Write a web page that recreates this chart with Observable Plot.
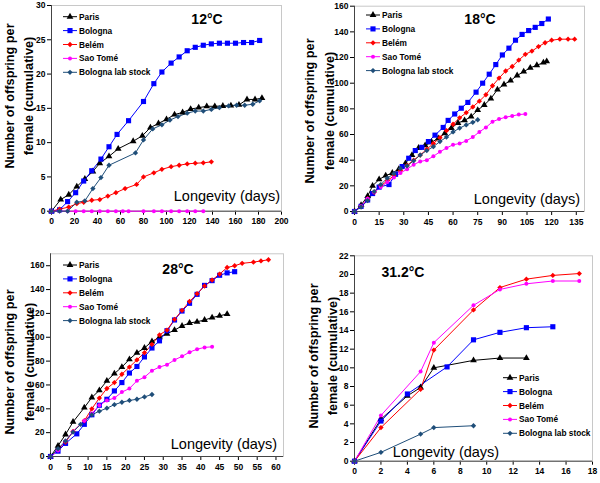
<!DOCTYPE html>
<html><head><meta charset="utf-8">
<script src="https://cdn.jsdelivr.net/npm/d3@7"></script>
<script src="https://cdn.jsdelivr.net/npm/@observablehq/plot@0.6"></script>
<style>
body{margin:0;background:#fff;}
#root{position:relative;width:600px;height:483px;font-family:"Liberation Sans",Arial,sans-serif;overflow:hidden;}
.panel{position:absolute;}
.panel svg{position:absolute;left:0;top:0;overflow:visible;}
</style></head><body><div id="root"></div>
<script>
// ---- legend / series ----
const seriesNames = ["Paris", "Bologna", "Belém", "Sao Tomé", "Bologna lab stock"];
const seriesColors = ["#000000", "#0000ff", "#ff0000", "#ff00ff", "#1f4e79"];
const seriesSymbols = ["triangle", "square", "diamond2", "circle", "diamond2"];

// ---- 12°C : [day, cumulative offspring] ----
const t12Paris = [[0,0],[8,1.7],[15,2.4],[22,3.6],[29,4.7],[36,5.8],[42,7.0],[50,8.0],[58,9.1],[71,10.2],[79,11.0],[86,12.2],[93,12.8],[100,13.4],[107,14.1],[114,14.4],[121,14.9],[128,15.1],[135,15.3],[142,15.3],[149,15.35],[156,15.4],[163,15.5],[170,16.3],[177,16.3],[183,16.5]];
const t12Bologna = [[0,0],[7,0.2],[14,1.4],[21,2.7],[28,4.4],[35,5.9],[43,7.6],[50,9.4],[57,11.2],[67,13.2],[80,16.0],[89,18.6],[96,20.3],[104,21.6],[111,22.5],[118,23.4],[125,23.9],[132,24.2],[139,24.4],[146,24.5],[153,24.5],[160,24.5],[167,24.6],[174,24.6],[181,24.9]];
const t12Belem = [[0,0],[7,0.3],[15,0.6],[22,1.1],[28,1.3],[35,1.6],[42,1.7],[49,2.2],[56,2.7],[64,3.3],[74,3.9],[80,5.0],[89,5.6],[96,6.1],[104,6.5],[111,6.7],[118,6.9],[125,7.0],[132,7.05],[139,7.2]];
const t12SaoTome = [[0,0],[7,0],[14,0],[21,0],[28,0],[35,0],[42,0],[49,0],[56,0],[62,0],[67,0],[80,0],[89,0],[96,0],[104,0],[111,0],[118,0],[125,0],[132,0]];
const t12LabStock = [[0,0],[7,0],[14,0],[22,1.3],[29,1.5],[36,3.3],[43,4.9],[50,6.7],[73,8.5],[80,10.4],[88,12.0],[96,12.6],[103,13.3],[110,13.8],[118,14.3],[125,14.6],[132,14.6],[139,14.85],[146,15.1],[154,15.35],[161,15.45],[168,15.45],[175,15.6],[181,16.1]];

// ---- 18°C ----
const t18Paris = [[0,0],[4,5],[8,12],[11,20],[15,25],[19,28],[23,30],[27,33],[31,37.5],[35,44],[39,49.5],[43,51.5],[47,54],[51,57],[55,61],[59,65],[63,69],[67,71],[71,74],[75,79],[79,83],[83,88],[87,95],[91,99],[95,102],[99,106],[103,109],[107,112],[111,114],[115,116],[117,117]];
const t18Bologna = [[0,0],[4,4],[8,9],[11,14],[15,19],[21,21],[25,29],[29,35],[33,41.5],[37,47.5],[41,50],[45,54.5],[49,59.5],[54,65.5],[57,71],[61,76],[65,80.5],[69,85],[74,93],[78,100],[82,107],[86,114.5],[90,122],[94,127.3],[98,133.5],[102,138],[106,141],[110,143.5],[114,146.5],[118,150]];
const t18Belem = [[0,0],[4,4],[8,10],[12,15],[16,20],[20,24],[24,28],[28,32],[32,36],[36,40],[40,44],[44,48.5],[48,53],[52,57.5],[56,63],[60,68],[64,73],[68,77],[72,81.5],[76,86],[80,91],[84,98],[88,104],[92,109.5],[96,113],[100,118],[104,122.5],[108,125],[112,128.5],[116,131.5],[120,133.5],[125,134.3],[130,134.3],[134,134.3]];
const t18SaoTome = [[0,0],[4,4],[8,10],[12,15],[16,19],[20,23],[24,26.5],[28,30],[32,33],[36,36.5],[40,39],[44,40],[48,43],[52,46.5],[56,49.5],[60,52],[64,53],[68,55],[72,58],[76,62],[80,65.5],[84,70],[88,72],[92,73.5],[96,74.5],[100,75.5],[104,76]];
const t18LabStock = [[0,0],[4,3.5],[8,8.5],[12,15.5],[16,21],[20,26],[24,29.5],[28,33.5],[32,35.5],[36,39.5],[40,44],[44,47.5],[48,50.5],[52,54.5],[56,58],[60,62],[64,65],[68,67.5],[72,69.5],[75,71.5]];

// ---- 28°C ----
const t28Paris = [[0,0],[2,9],[4,18.5],[6,29],[9,41],[11,49.5],[13,55.5],[15,63.5],[17,69.5],[19,75],[21,81.5],[23,87],[25,91],[27,96.5],[29,100],[31,103],[33,106],[35,109.5],[37,112],[39,113],[41,114.5],[43,116.5],[45,118],[47,119.5]];
const t28Bologna = [[0,0],[2,4.5],[4,11],[7,19],[9,27],[11,35],[13,43],[15,48],[17,55],[19,62],[21,70],[23,75.5],[25,83.5],[27,91],[29,97],[31,105.5],[33,114.5],[35,122],[37,128.5],[39,136],[41,143.5],[43,147.5],[45,152],[47,154],[49,155]];
const t28Belem = [[0,0],[2,6],[4,12],[6,21],[9,30],[11,40],[13,49],[15,57],[17,62],[19,69],[21,75],[23,81],[25,87],[27,94],[29,102],[31,106],[33,115],[35,122.5],[37,130],[39,136.5],[41,143],[43,148],[45,153],[47,158.5],[49,160],[51,162],[54,163],[56,164],[58,165]];
const t28SaoTome = [[0,0],[2,5],[4,13],[6,21],[9,30],[11,36],[13,43],[15,47],[17,49],[19,54],[21,57],[23,63.5],[25,66.5],[27,72],[29,75],[31,77],[33,81],[35,84],[37,87.5],[39,90],[41,91.5],[43,92]];
const t28LabStock = [[0,0],[2,6.5],[4,13],[6,20.5],[8,27],[11,35],[13,38],[15,40.5],[17,43.5],[19,45.5],[21,47],[23,48],[25,50],[27,52]];

// ---- 31.2°C ----
const t31Paris = [[0,0],[2,4.5],[4,7.0],[5,7.9],[6,10.0],[9,10.8],[11,11.05],[13,11.05]];
const t31Bologna = [[0,0],[2,4.3],[4,7.2],[7,10.1],[9,13.0],[11,13.8],[13,14.3],[15,14.4]];
const t31Belem = [[0,0],[2,3.6],[5,7.7],[6,11.9],[9,16.2],[11,18.6],[13,19.5],[15,19.9],[17,20.1]];
const t31SaoTome = [[0,0],[2,4.9],[5,9.6],[6,12.7],[9,16.7],[11,18.4],[13,19.0],[15,19.3],[17,19.3]];
const t31LabStock = [[0,0],[2,0.95],[5,2.9],[6,3.6],[9,3.8]];

// ---- tick labels ----
const x12Ticks = [0,20,40,60,80,100,120,140,160,180,200];
const y12Ticks = [0,5,10,15,20,25,30];
const x18Ticks = [0,15,30,45,60,75,90,105,120,135];
const y18Ticks = [0,20,40,60,80,100,120,140,160];
const x28Ticks = [0,5,10,15,20,25,30,35,40,45,50,55,60];
const y28Ticks = [0,20,40,60,80,100,120,140,160];
const x31Ticks = [0,2,4,6,8,10,12,14,16,18];
const y31Ticks = [0,2,4,6,8,10,12,14,16,18,20,22];

const titles = ["12°C", "18°C", "28°C", "31.2°C"];
const yTitleLines = ["Number of offspring per", "female (cumulative)"];
const xTitle = "Longevity (days)";

const panels = [
  {left:0, top:0, w:300, h:240, m:[5,19,29.3,51], xd:[0,200], yd:[0,30], xt:x12Ticks, yt:y12Ticks,
   data:[t12Paris,t12Bologna,t12Belem,t12SaoTome,t12LabStock], title:titles[0],
   tp:[207,19], lp:[227,196], lg:[63,16.7], yl:[10,29,96]},
  {left:300, top:0, w:300, h:240, m:[5.7,16,29,54], xd:[0,140], yd:[0,160], xt:x18Ticks, yt:y18Ticks,
   data:[t18Paris,t18Bologna,t18Belem,t18SaoTome,t18LabStock], title:titles[1],
   tp:[180,19], lp:[227,199], lg:[66,15], yl:[10,30,111]},
  {left:0, top:240, w:300, h:243, m:[13.3,17,27,50], xd:[0,62], yd:[0,170], xt:x28Ticks, yt:y28Ticks,
   data:[t28Paris,t28Bologna,t28Belem,t28SaoTome,t28LabStock], title:titles[2],
   tp:[178,29], lp:[224,204], lg:[63,25], yl:[10,30,122]},
  {left:300, top:240, w:300, h:243, m:[15.3,8,22.3,54], xd:[0,18], yd:[0,22], xt:x31Ticks, yt:y31Ticks,
   data:[t31Paris,t31Bologna,t31Belem,t31SaoTome,t31LabStock], title:titles[3],
   tp:[103,32], lp:[146,212], lg:[203,137.7], yl:[14,33,116]}
];

const dotR = [2.5, 2.9, 2.4, 2.0, 2.4];
const font = "Liberation Sans, Arial, sans-serif";
const root = document.getElementById("root");

panels.forEach(p => {
  const div = document.createElement("div");
  div.className = "panel";
  div.style.left = p.left + "px"; div.style.top = p.top + "px";
  div.style.width = p.w + "px"; div.style.height = p.h + "px";
  root.appendChild(div);

  const marks = [
    Plot.frame({stroke:"#c8c8c8"}),
    Plot.ruleY([p.yd[0]], {stroke:"#444"}),
    Plot.ruleX([p.xd[0]], {stroke:"#444"})
  ];
  p.data.forEach((d, i) => {
    marks.push(Plot.line(d, {x:v=>v[0], y:v=>v[1], stroke:seriesColors[i], strokeWidth:1}));
  });
  p.data.forEach((d, i) => {
    marks.push(Plot.dot(d, {x:v=>v[0], y:v=>v[1], fill:seriesColors[i], symbol:seriesSymbols[i], r:dotR[i], stroke:"none"}));
  });

  const chart = Plot.plot({
    width:p.w, height:p.h,
    marginTop:p.m[0], marginRight:p.m[1], marginBottom:p.m[2], marginLeft:p.m[3],
    x:{domain:p.xd, ticks:p.xt, tickSize:4, tickPadding:3, label:null, tickFormat:"d"},
    y:{domain:p.yd, ticks:p.yt, tickSize:4, tickPadding:2, label:null, tickFormat:"d"},
    style:{fontFamily:font, fontSize:"8.5px", fontWeight:"bold", color:"#000", background:"transparent"},
    marks
  });
  div.appendChild(chart);

  // overlay annotations (titles, legend)
  const svg = d3.select(div).append("svg")
    .attr("width", p.w).attr("height", p.h)
    .style("font-family", font);

  yTitleLines.forEach((t, k) => {
    svg.append("text")
      .attr("transform", `translate(${p.yl[k]},${p.yl[2]}) rotate(-90)`)
      .attr("text-anchor", "middle").attr("dominant-baseline", "central")
      .attr("font-size", "12.7px").attr("font-weight", "bold").attr("fill", "#000")
      .text(t);
  });
  svg.append("text").attr("x", p.tp[0]).attr("y", p.tp[1])
    .attr("text-anchor", "middle").attr("dominant-baseline", "central")
    .attr("font-size", "14px").attr("font-weight", "bold").text(p.title);
  svg.append("text").attr("x", p.lp[0]).attr("y", p.lp[1])
    .attr("text-anchor", "middle").attr("dominant-baseline", "central")
    .attr("font-size", "14.5px").text(xTitle);
  const symMap = {triangle:d3.symbolTriangle, square:d3.symbolSquare, diamond2:d3.symbolDiamond2, circle:d3.symbolCircle};
  seriesNames.forEach((name, i) => {
    const y = p.lg[1] + i * 13.9;
    const g = svg.append("g");
    g.append("line").attr("x1", p.lg[0]).attr("x2", p.lg[0] + 14).attr("y1", y).attr("y2", y)
      .attr("stroke", seriesColors[i]).attr("stroke-width", 1);
    g.append("path").attr("transform", `translate(${p.lg[0] + 7},${y})`)
      .attr("d", d3.symbol(symMap[seriesSymbols[i]], Math.PI * dotR[i] * dotR[i])())
      .attr("fill", seriesColors[i]);
    g.append("text").attr("x", p.lg[0] + 16).attr("y", y)
      .attr("dominant-baseline", "central").attr("font-size", "8.3px").attr("font-weight", "bold")
      .text(name);
  });
});
</script></body></html>
